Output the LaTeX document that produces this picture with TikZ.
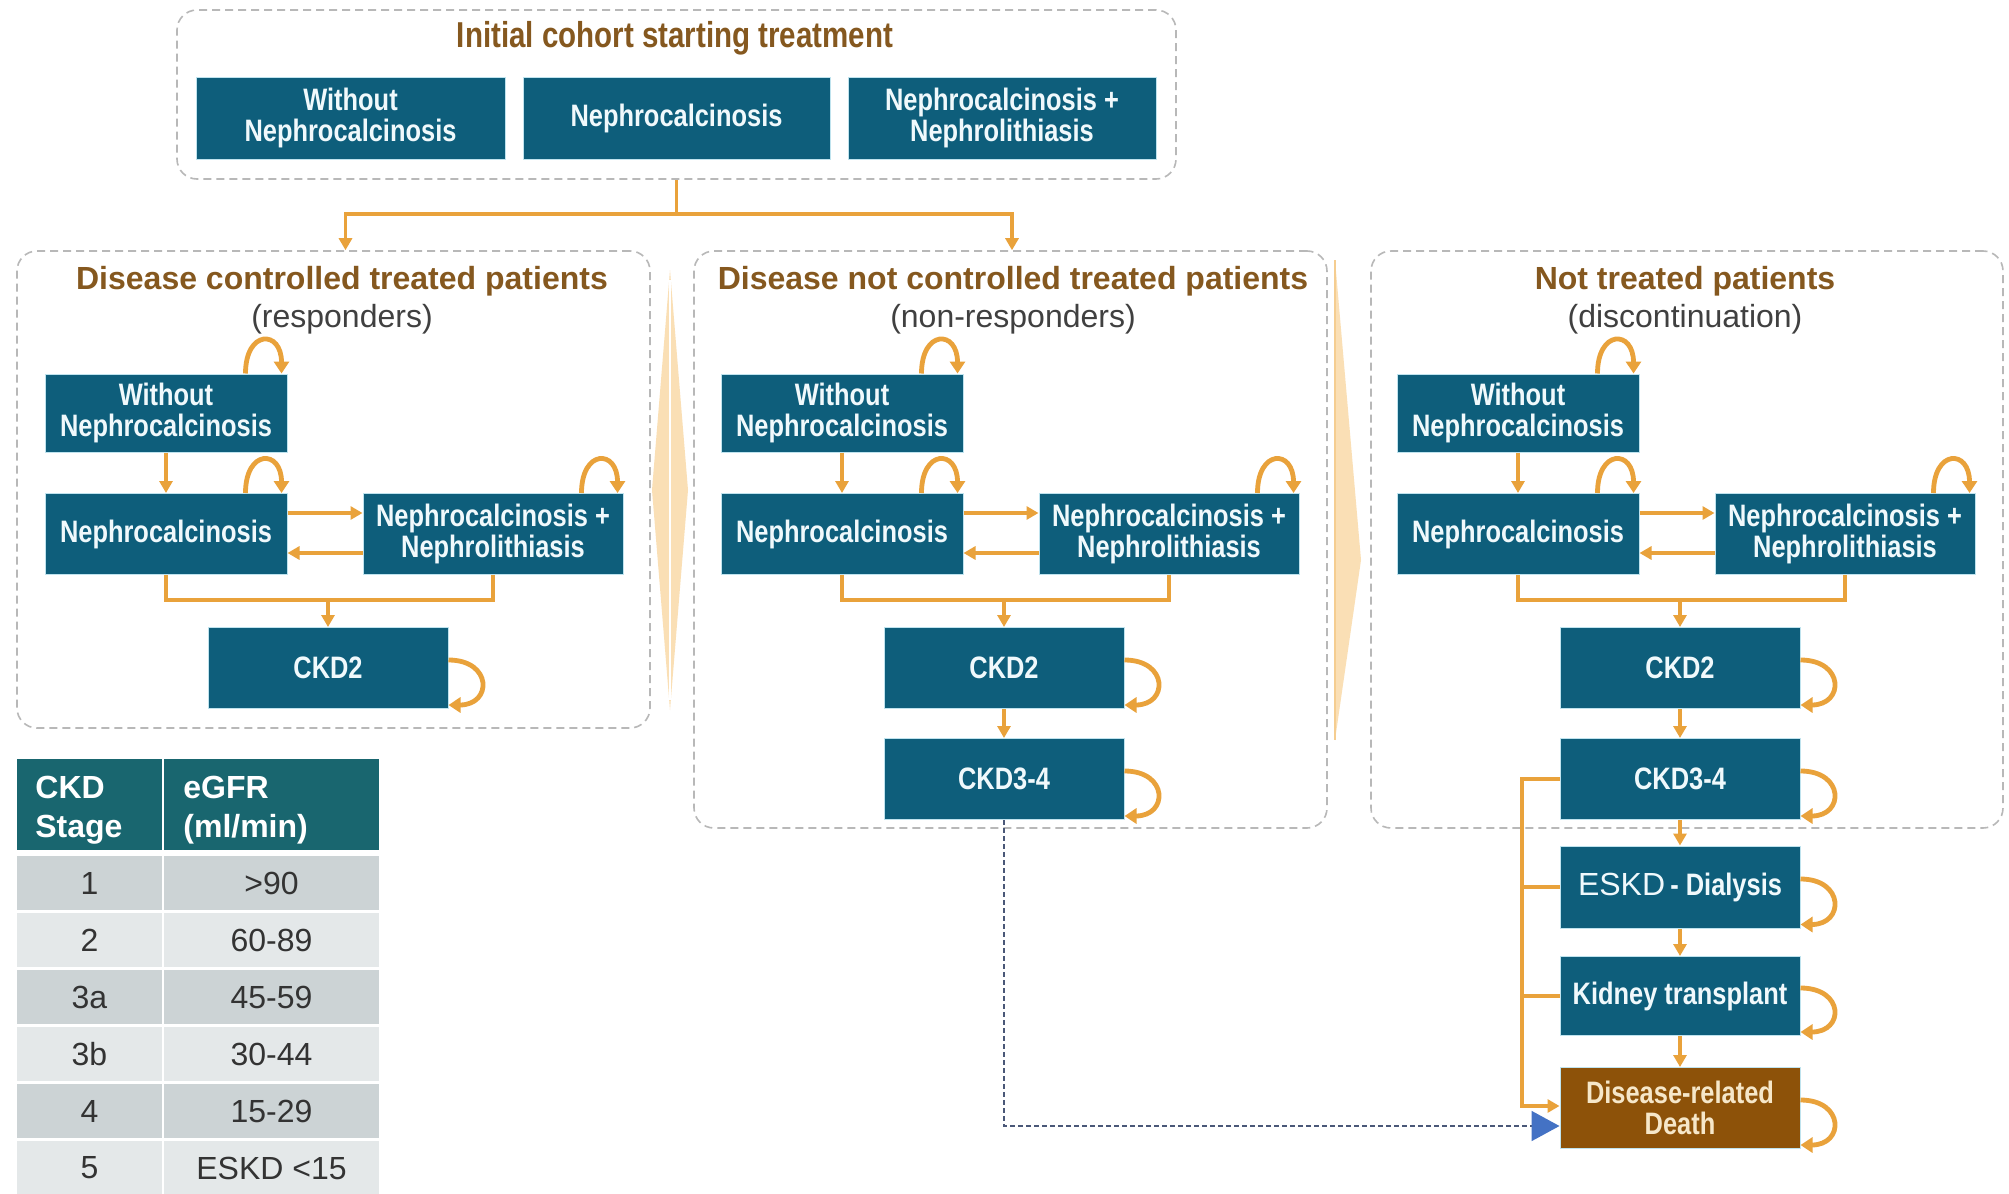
\documentclass[tikz,border=0pt]{standalone}
\usepackage{fontspec}
\setmainfont{Liberation Sans}
\newfontfamily\narrowfont[FakeStretch=0.82]{Liberation Sans}
\usetikzlibrary{arrows.meta,calc}
\definecolor{boxteal}{HTML}{0E5E7B}
\definecolor{boxedge}{HTML}{BFE3EE}
\definecolor{tabteal}{HTML}{19666F}
\definecolor{flowor}{HTML}{E9A23B}
\definecolor{titlebrown}{HTML}{85581F}
\definecolor{deathbrown}{HTML}{8D5209}
\definecolor{deathtext}{HTML}{F6E7C9}
\definecolor{boxtext}{HTML}{F0F9FC}
\definecolor{lensfill}{HTML}{FADFB5}
\definecolor{subgray}{HTML}{404040}
\definecolor{framegray}{HTML}{B8B8B8}
\definecolor{rowdark}{HTML}{CCD3D5}
\definecolor{rowlight}{HTML}{E4E8E9}
\definecolor{celltext}{HTML}{333333}
\definecolor{linkblue}{HTML}{4472C4}
\definecolor{linkline}{HTML}{4A5878}
\begin{document}
\begin{tikzpicture}[x=0.5pt,y=-0.5pt,
  box/.style={fill=boxteal, draw=boxedge, line width=0.5pt, text=boxtext,
    font=\narrowfont\bfseries\fontsize{15.5}{15.3}\selectfont, align=center,
    inner sep=0pt, minimum height=40.5pt, minimum width=121pt},
  deathbox/.style={box, fill=deathbrown, text=deathtext},
  frame/.style={draw=framegray, dash pattern=on 4pt off 2.5pt, line width=0.8pt,
    rounded corners=10pt, inner sep=0pt},
  flow/.style={draw=flowor, line width=1.6pt},
  arr/.style={flow, -{Triangle[length=6pt,width=6.5pt]}},
  selfloop/.style={draw=flowor, line width=2.4pt, -{Triangle[length=6pt,width=7.5pt]}},
  ptitle/.style={text=titlebrown, font=\bfseries\fontsize{16}{19}\selectfont},
  psub/.style={text=subgray, font=\fontsize{16}{19}\selectfont},
  cell/.style={inner sep=0pt, text=celltext, font=\fontsize{16}{19}\selectfont, minimum height=27pt},
  hcell/.style={fill=tabteal, minimum height=45.5pt, inner sep=0pt},
  htext/.style={text=white, font=\bfseries\fontsize{16}{19.5}\selectfont, align=left, anchor=west, inner sep=0pt},
  bluelink/.style={draw=linkline, line width=0.9pt, dash pattern=on 2.5pt off 1.5pt,
    -{Triangle[length=14pt,width=15pt,color=linkblue,fill=linkblue]}}
]
\useasboundingbox[fill=white] (0,0) rectangle (2009,1194);

% frames
\node[frame, minimum width=499.5pt, minimum height=84.5pt] (P0) at (676.5,94.5) {};
\node[frame, minimum width=316.5pt, minimum height=238.5pt] (P1) at (333.5,489.5) {};
\node[frame, minimum width=316.5pt, minimum height=288.5pt] (P2) at (1010.5,539.5) {};
\node[frame, minimum width=316pt, minimum height=288.5pt] (P3) at (1687,539.5) {};

% separators
\fill[lensfill] (670,270) -- (688,490) -- (670,710) -- (652,490) -- cycle;
\draw[white, line width=0.6pt] (670,280) -- (670,700);
\fill[lensfill] (1335,260) -- (1361,560) -- (1335,740) -- cycle;
\draw[lensfill!70!flowor, line width=0.6pt] (1335,260) -- (1335,740);

% top cohort
\node[text=titlebrown, font=\narrowfont\bfseries\fontsize{18}{21}\selectfont] (T0) at (675,38) {Initial cohort starting treatment};
\node[box, minimum width=154.5pt, minimum height=41pt] (A1) at (350.5,118) {Without\\Nephrocalcinosis};
\node[box, minimum width=153.5pt, minimum height=41pt] (A2) at (676.5,118) {Nephrocalcinosis};
\node[box, minimum width=154pt, minimum height=41pt] (A3) at (1002,118) {Nephrocalcinosis +\\Nephrolithiasis};
\coordinate (J0) at (676.5,214);
\draw[flow] (P0.south) -- (J0);
\draw[arr] (J0) -| ([xshift=6pt]P1.north);
\draw[arr] (J0) -| ([xshift=0.75pt]P2.north);

% panel titles
\node[ptitle] (T1) at (342,281) {Disease controlled treated patients};
\node[psub] (S1) at (342,319) {(responders)};
\node[ptitle] (T2) at (1013,281) {Disease not controlled treated patients};
\node[psub] (S2) at (1013,319) {(non-responders)};
\node[ptitle] (T3) at (1685,281) {Not treated patients};
\node[psub] (S3) at (1685,319) {(discontinuation)};

% panel boxes
\foreach \i/\dx in {1/0,2/676,3/1352}{
  \node[box, minimum height=39pt] (W\i) at ({166+\dx},413) {Without\\Nephrocalcinosis};
  \node[box] (N\i) at ({166+\dx},534) {Nephrocalcinosis};
  \node[box, minimum width=130pt] (NN\i) at ({493+\dx},534) {Nephrocalcinosis +\\Nephrolithiasis};
  \node[box, minimum width=120pt] (C\i) at ({328+\dx},668) {CKD2};
  \coordinate (J\i) at ({328+\dx},600);
  \draw[arr] (W\i) -- (N\i);
  \draw[arr] ([yshift=10.5pt]N\i.east) -- ([yshift=10.5pt]NN\i.west);
  \draw[arr] ([yshift=-9.5pt]NN\i.west) -- ([yshift=-9.5pt]N\i.east);
  \draw[flow] (N\i.south) |- (NN\i.south |- J\i) -- (NN\i.south);
  \draw[arr] (J\i) -- (C\i.north);
}
\node[box, minimum width=120pt] (K2) at (1004,779) {CKD3-4};
\node[box, minimum width=120pt] (K3) at (1680,779) {CKD3-4};
\node[box, minimum width=120pt, minimum height=41pt] (E3) at (1680,887) {{\normalfont\fontsize{16}{19}\selectfont ESKD}\,- Dialysis};
\node[box, minimum width=120pt, minimum height=39.5pt] (K4) at (1680,996) {Kidney transplant};
\node[deathbox, minimum width=120pt] (D3) at (1680,1108) {Disease-related\\Death};
\draw[arr] (C2) -- (K2);
\draw[arr] (C3) -- (K3);
\draw[arr] (K3) -- (E3);
\draw[arr] (E3) -- (K4);
\draw[arr] (K4) -- (D3);
\coordinate (bus) at (1522,1106);
\draw[arr] (K3.west) -| (bus) -- (bus -| D3.west);
\draw[flow] (E3.west) -- (E3.west -| bus);
\draw[flow] (K4.west) -- (K4.west -| bus);
\draw[bluelink] (K2.south) |- ([yshift=-9pt]D3.west);

% self loops
\foreach \n in {W1,N1,NN1,W2,N2,NN2,W3,N3,NN3}{
  \draw[selfloop] ([xshift=-21pt]\n.north east) .. controls +(0,22pt) and +(0,22pt) .. ([xshift=-3pt]\n.north east);
}
\foreach \n in {C1,C2,K2,C3,K3,E3,K4,D3}{
  \draw[selfloop] ([yshift=4pt]\n.east) .. controls +(22pt,0) and +(22pt,0) .. ([yshift=2pt]\n.south east);
}

% table
\node[hcell, minimum width=72.5pt] (H1) at (89.5,804.5) {};
\node[hcell, minimum width=107.5pt] (H2) at (271.5,804.5) {};
\node[htext] (H1t) at (35,810) {CKD\\Stage};
\node[htext] (H2t) at (183,810) {eGFR\\(ml/min)};
\foreach \r/\a/\b/\c in {1/1/{>90}/rowdark, 2/2/{60-89}/rowlight, 3/3a/{45-59}/rowdark, 4/3b/{30-44}/rowlight, 5/4/{15-29}/rowdark, 6/5/{ESKD <15}/rowlight}{
  \node[cell, fill=\c, minimum width=72.5pt] (S\r) at (89.5,{883+57*(\r-1)}) {\a};
  \node[cell, fill=\c, minimum width=107.5pt] (G\r) at (271.5,{883+57*(\r-1)}) {\b};
}
\end{tikzpicture}
\end{document}
